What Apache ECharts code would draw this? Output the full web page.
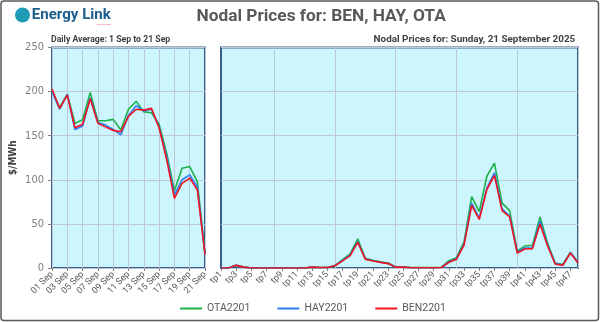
<!DOCTYPE html>
<html>
<head>
<meta charset="utf-8">
<script src="https://cdn.jsdelivr.net/npm/echarts@6/dist/echarts.min.js"></script>
<style>
html,body{margin:0;padding:0;background:#fff;}
#c{width:600px;height:322px;}
</style>
</head>
<body>
<div id="c"></div>
<script>
const dayLabels = ['01 Sep','02 Sep','03 Sep','04 Sep','05 Sep','06 Sep','07 Sep','08 Sep','09 Sep','10 Sep','11 Sep','12 Sep','13 Sep','14 Sep','15 Sep','16 Sep','17 Sep','18 Sep','19 Sep','20 Sep','21 Sep'];
const dailyOTA = [201,182,197,164,168,199,167,167,168.5,156.5,180,189,177,176,163,130,87.5,113,115,98,16];
const dailyHAY = [200,180,197,157,161,193,165,162,157,151,173,184,178,180,160,126,83,100,105.5,92,16];
const dailyBEN = [203,181,196,159,163,192,164,160,156,154.5,172,180,179,181,159,122.5,79,96,102,88.6,15];

const tpLabels = ['tp1','tp2','tp3','tp4','tp5','tp6','tp7','tp8','tp9','tp10','tp11','tp12','tp13','tp14','tp15','tp16','tp17','tp18','tp19','tp20','tp21','tp22','tp23','tp24','tp25','tp26','tp27','tp28','tp29','tp30','tp31','tp32','tp33','tp34','tp35','tp36','tp37','tp38','tp39','tp40','tp41','tp42','tp43','tp44','tp45','tp46','tp47','tp48'];
const tpOTA = [0,0,3,1,0,0,0,0,0,0,0,0,1,0.5,0.5,2.8,9.5,16,33,11,8.7,7,5.7,1.2,1,0.5,0.5,0.5,0.5,0.8,8.3,11.7,30,81,64,104,119,73.5,65,19,25,25.6,58,28,5.6,4,18,6.4];
const tpHAY = [0,0,3,1,0,0,0,0,0,0,0,0,1,0.5,0.5,2.6,8.5,14.5,30,10.3,8.2,6.6,5.2,1,1,0.2,0.2,0.2,0.2,0.5,6.8,10.5,27,73.5,56.5,90.5,108,67,59,18,22.6,23,53,26,5,3.4,17.5,6];
const tpBEN = [0,0,3,1,0,0,0,0,0,0,0,0,1,0.5,0.5,2.6,8,14,29,10,8,6.4,5,1,1,0.2,0.2,0.2,0.2,0.5,6.4,10,26,71,55,89,105,65,58,17,21.5,22,50,25,4.5,3,17,5.6];

const green = '#1DB04B', blue = '#2F7DF6', red = '#F0141E';
const FONT = 'Roboto, "Liberation Sans", sans-serif';
const AXFONT = 'Liberation Sans Narrow, DejaVu Sans Condensed, sans-serif';

const G0 = {left:52, right:395, top:47.5, bottom:54};
const G1 = {left:221, right:22, top:47.5, bottom:54};

// choose a font size so a text spans a given width (layout only)
const mctx = document.createElement('canvas').getContext('2d');
function sizeFor(text, weight, width) {
  mctx.font = weight + ' 100px ' + FONT;
  return Math.round(100 * width / mctx.measureText(text).width * 10) / 10;
}
function txt(text, weight, x, y, width, fill) {
  return {type:'text', x:x, y:y,
    style:{text:text, fontSize:sizeFor(text, weight, width), fontWeight:weight, fontFamily:FONT,
      fill:fill, align:'left', verticalAlign:'middle'}};
}
function gridLines() { return {show:true, lineStyle:{color:'#BCCAD6', width:1}}; }
const labelFont = {color:'#595959', fontSize:9, fontFamily:FONT};

const chart = echarts.init(document.getElementById('c'), null, {renderer:'canvas'});
function mk(name, color, data, idx) {
  return {name:name, type:'line', data:data, xAxisIndex:idx, yAxisIndex:idx, symbol:'none',
    lineStyle:{color:color, width:1.6}, itemStyle:{color:color}, animation:false};
}
chart.setOption({
  animation:false,
  graphic:[
    {type:'rect', shape:{x:1, y:1, width:597.5, height:319.5, r:3}, style:{fill:'none', stroke:'#595959', lineWidth:1.5}, z:100},
    {type:'circle', shape:{cx:22.5, cy:15, r:7.5}, style:{fill:'#1E9BB5'}},
    txt('Energy Link', 'bold', 31.7, 15, 79, '#1D5F8E'),
    txt('decision power', 'normal', 97, 24.5, 14, '#E24A7C'),
    txt('Nodal Prices for: BEN, HAY, OTA', 'bold', 196.5, 17, 249, '#595959'),
    txt('Daily Average: 1 Sep to 21 Sep', 'bold', 51, 39.5, 119.5, '#404040'),
    txt('Nodal Prices for: Sunday, 21 September 2025', 'bold', 373.6, 39.5, 202.4, '#404040')
  ],
  legend:{
    data:['OTA2201','HAY2201','BEN2201'], left:175, top:298, itemWidth:22, itemHeight:10, itemGap:27,
    icon:'path://M0,4 L22,4 L22,6 L0,6 Z',
    textStyle:{color:'#595959', fontSize:10.5, fontFamily:FONT}
  },
  grid:[
    Object.assign({show:true, backgroundColor:'#CCF5FD', borderColor:'#3A5E8C', borderWidth:2}, G0),
    Object.assign({show:true, backgroundColor:'#CCF5FD', borderColor:'#3A5E8C', borderWidth:2}, G1)
  ],
  xAxis:[
    {type:'category', gridIndex:0, data:dayLabels, boundaryGap:false,
     axisLine:{show:false}, axisTick:{show:true, interval:1, length:3, lineStyle:{color:'#7F7F7F'}},
     axisLabel:Object.assign({interval:1, rotate:45, margin:5}, labelFont),
     splitLine:Object.assign({interval:1}, gridLines())},
    {type:'category', gridIndex:1, data:tpLabels, boundaryGap:false,
     axisLine:{show:false}, axisTick:{show:true, interval:1, length:3, lineStyle:{color:'#7F7F7F'}},
     axisLabel:Object.assign({interval:1, rotate:45, margin:5, showMinLabel:true}, labelFont),
     splitLine:{show:true, interval:function(i){return i % 8 === 7;}, lineStyle:{color:'#BCCAD6', width:1}}}
  ],
  yAxis:[
    {type:'value', gridIndex:0, min:0, max:250, interval:50,
     name:'$/MWh', nameLocation:'middle', nameGap:34, nameRotate:90,
     nameTextStyle:{fontSize:10, fontWeight:'bold', color:'#404040', fontFamily:AXFONT},
     axisLine:{show:false}, axisTick:{show:true, length:4, lineStyle:{color:'#7F7F7F'}},
     axisLabel:{color:'#7F7F7F', fontSize:11, margin:8, fontFamily:AXFONT},
     splitLine:gridLines()},
    {type:'value', gridIndex:1, min:0, max:250, interval:50,
     axisLine:{show:false}, axisTick:{show:false}, axisLabel:{show:false}, splitLine:gridLines()}
  ],
  series:[
    mk('OTA2201', green, dailyOTA, 0),
    mk('HAY2201', blue, dailyHAY, 0),
    mk('BEN2201', red, dailyBEN, 0),
    mk('OTA2201', green, tpOTA, 1),
    mk('HAY2201', blue, tpHAY, 1),
    mk('BEN2201', red, tpBEN, 1)
  ]
});
</script>
</body>
</html>
